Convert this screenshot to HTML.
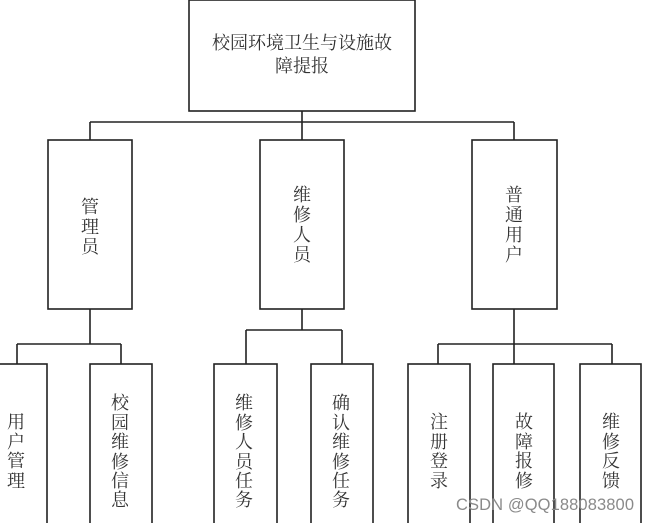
<!DOCTYPE html>
<html><head><meta charset="utf-8"><style>
html,body{margin:0;padding:0;background:#fff;width:646px;height:523px;overflow:hidden}
svg text{font-family:"Liberation Serif","Noto Serif CJK SC",serif;fill:#333;font-size:18px}
</style></head><body>
<svg width="646" height="523" viewBox="0 0 646 523" xmlns="http://www.w3.org/2000/svg">
<g fill="none" stroke="#222" stroke-width="1.6">
<rect x="189" y="0" width="226" height="111"/>
<rect x="48" y="140" width="84" height="169"/>
<rect x="260" y="140" width="84" height="169"/>
<rect x="472" y="140" width="85" height="169"/>
<rect x="-5" y="364" width="52" height="170"/>
<rect x="90" y="364" width="62" height="170"/>
<rect x="214" y="364" width="63" height="170"/>
<rect x="311" y="364" width="62" height="170"/>
<rect x="408" y="364" width="62" height="170"/>
<rect x="493" y="364" width="61" height="170"/>
<rect x="580" y="364" width="61" height="170"/>
<path d="M302 111V122M90 122H514M90 122V140M302 122V140M514 122V140"/>
<path d="M90 309V344M17 344H121M17 344V364M121 344V364"/>
<path d="M302 309V330M246 330H342M246 330V364M342 330V364"/>
<path d="M514 309V364M438 344H612M438 344V364M612 344V364"/>
</g>
<g text-anchor="middle">
<text x="302" y="49" font-size="19">校园环境卫生与设施故</text>
<text x="302" y="72" font-size="19">障提报</text>
<text x="90" y="213">管</text><text x="90" y="233">理</text><text x="90" y="253">员</text>
<text x="302" y="201">维</text><text x="302" y="221">修</text><text x="302" y="241">人</text><text x="302" y="261">员</text>
<text x="514" y="201">普</text><text x="514" y="221">通</text><text x="514" y="241">用</text><text x="514" y="261">户</text>
<g>
<text x="16" y="428">用</text><text x="16" y="448">户</text><text x="16" y="467">管</text><text x="16" y="487">理</text>
</g>
<g>
<text x="120" y="409">校</text><text x="120" y="429">园</text><text x="120" y="448">维</text><text x="120" y="468">修</text><text x="120" y="487">信</text><text x="120" y="506">息</text>
</g>
<g>
<text x="244" y="409">维</text><text x="244" y="429">修</text><text x="244" y="448">人</text><text x="244" y="468">员</text><text x="244" y="487">任</text><text x="244" y="506">务</text>
</g>
<g>
<text x="341" y="409">确</text><text x="341" y="429">认</text><text x="341" y="448">维</text><text x="341" y="468">修</text><text x="341" y="487">任</text><text x="341" y="506">务</text>
</g>
<g>
<text x="439" y="428">注</text><text x="439" y="448">册</text><text x="439" y="467">登</text><text x="439" y="487">录</text>
</g>
<g>
<text x="524" y="428">故</text><text x="524" y="448">障</text><text x="524" y="467">报</text><text x="524" y="487">修</text>
</g>
<g>
<text x="611" y="428">维</text><text x="611" y="448">修</text><text x="611" y="467">反</text><text x="611" y="487">馈</text>
</g>
</g>
<text x="456" y="510" textLength="178" style="font-family:'Liberation Sans',sans-serif;font-size:16.5px;fill:#8a8a8a">CSDN @QQ188083800</text>
</svg>
</body></html>
